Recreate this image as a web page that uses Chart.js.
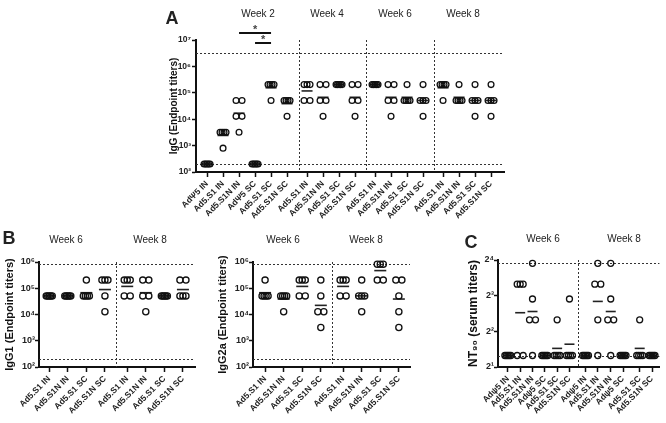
<!DOCTYPE html>
<html lang="en">
<head>
<meta charset="utf-8">
<title>IgG / NT90 titers</title>
<script src="https://cdn.jsdelivr.net/npm/chart.js"></script>
<style>
  html, body { margin: 0; padding: 0; background: #fff; }
  #wrap { position: relative; width: 666px; height: 423px; overflow: hidden; }
  #wrap canvas { position: absolute; left: 0; top: 0; }
</style>
</head>
<body>
<div id="wrap">
  <canvas id="chartA" width="666" height="423"></canvas>
  <canvas id="chartB1" width="666" height="423"></canvas>
  <canvas id="chartB2" width="666" height="423"></canvas>
  <canvas id="chartC" width="666" height="423"></canvas>
</div>
<script>
// ---- data ----
const groupsA2 = ['AdΨ5 IN', 'Ad5.S1 IN', 'Ad5.S1N IN', 'AdΨ5 SC', 'Ad5.S1 SC', 'Ad5.S1N SC'];
const groupsS = ['Ad5.S1 IN', 'Ad5.S1N IN', 'Ad5.S1 SC', 'Ad5.S1N SC'];
const groupsC = ['Adψ5 IN', 'Ad5.S1 IN', 'Ad5.S1N IN', 'Adψ5 SC', 'Ad5.S1 SC', 'Ad5.S1N SC'];
const weeksA = ['Week 2', 'Week 4', 'Week 6', 'Week 8'];
const weeksB = ['Week 6', 'Week 8'];

// panel A, IgG endpoint titers
const igG_wk2 = [
  [200, 200, 200, 200, 200],
  [3200, 3200, 3200, 3200, 800],
  [51200, 51200, 12800, 12800, 3200],
  [200, 200, 200, 200, 200],
  [204800, 204800, 204800, 204800, 51200],
  [51200, 51200, 51200, 51200, 12800]
];
const igG_wk4 = [
  [204800, 204800, 204800, 51200, 51200],
  [204800, 204800, 51200, 51200, 12800],
  [204800, 204800, 204800, 204800, 204800],
  [204800, 204800, 51200, 51200, 12800]
];
const igG_wk6 = [
  [204800, 204800, 204800, 204800, 204800],
  [204800, 204800, 51200, 51200, 12800],
  [204800, 51200, 51200, 51200, 51200],
  [204800, 51200, 51200, 51200, 12800]
];
const igG_wk8 = [
  [204800, 204800, 204800, 204800, 51200],
  [204800, 51200, 51200, 51200, 51200],
  [204800, 51200, 51200, 51200, 12800],
  [204800, 51200, 51200, 51200, 12800]
];

// panel B, IgG1 and IgG2a
const igG1_wk6 = [
  [51200, 51200, 51200, 51200, 51200],
  [51200, 51200, 51200, 51200, 51200],
  [204800, 51200, 51200, 51200, 51200],
  [204800, 204800, 204800, 51200, 12800]
];
const igG1_wk8 = [
  [204800, 204800, 204800, 51200, 51200],
  [204800, 204800, 51200, 51200, 12800],
  [51200, 51200, 51200, 51200, 51200],
  [204800, 204800, 51200, 51200, 51200]
];
const igG2a_wk6 = [
  [204800, 51200, 51200, 51200, 51200],
  [51200, 51200, 51200, 51200, 12800],
  [204800, 204800, 204800, 51200, 51200],
  [204800, 51200, 12800, 12800, 3200]
];
const igG2a_wk8 = [
  [204800, 204800, 204800, 51200, 51200],
  [204800, 51200, 51200, 51200, 12800],
  [819200, 819200, 819200, 204800, 204800],
  [204800, 204800, 51200, 12800, 3200]
];

// panel C, NT90 serum titers
const nt90_wk6 = [
  [2.5, 2.5, 2.5, 2.5, 2.5],
  [10, 10, 10, 2.5, 2.5],
  [15, 7.5, 5, 5, 2.5],
  [2.5, 2.5, 2.5, 2.5, 2.5],
  [5, 2.5, 2.5, 2.5, 2.5],
  [7.5, 2.5, 2.5, 2.5, 2.5]
];
const nt90_wk8 = [
  [2.5, 2.5, 2.5, 2.5, 2.5],
  [15, 10, 10, 5, 2.5],
  [15, 7.5, 5, 5, 2.5],
  [2.5, 2.5, 2.5, 2.5, 2.5],
  [5, 2.5, 2.5, 2.5, 2.5],
  [2.5, 2.5, 2.5, 2.5, 2.5]
];

const limitsIgG = [3276800, 200];
const limitsB = [819200, 200];
const limitsNT = [15, 2.5];

const tickLog10 = [1e2, 1e3, 1e4, 1e5, 1e6, 1e7];
const tickLabels10 = ['10²', '10³', '10⁴', '10⁵', '10⁶', '10⁷'];
const tickLog2 = [2, 4, 8, 16];
const tickLabels2 = ['2¹', '2²', '2³', '2⁴'];

// ---- drawing ----
Chart.defaults.font.family = "'Liberation Sans', Arial, sans-serif";
Chart.defaults.color = '#222';
const FONT = "'Liberation Sans', Arial, sans-serif";
const W = 666, H = 423;

function geoMean(vals) {
  return Math.pow(10, vals.reduce((s, v) => s + Math.log10(v), 0) / vals.length);
}

// equal values sit side by side, like a column scatter
function spreadPoints(groups, pos, unitsPerPx) {
  const pts = [];
  groups.forEach((vals, i) => {
    const counts = {};
    vals.forEach(v => { counts[v] = (counts[v] || 0) + 1; });
    Object.keys(counts).forEach(k => {
      const n = counts[k];
      const step = n > 1 ? 6 / (n - 1) : 0;
      for (let j = 0; j < n; j++) {
        pts.push({ x: pos[i] + (j - (n - 1) / 2) * step * unitsPerPx, y: Number(k) });
      }
    });
  });
  return pts;
}

function extrasFor(cfg) {
  return {
    id: 'extras',
    beforeDatasetsDraw(chart) {
      const { ctx, chartArea: a, scales: { x, y } } = chart;
      ctx.save();
      ctx.strokeStyle = '#333';
      ctx.lineWidth = 1;
      ctx.setLineDash([2, 2]);
      cfg.hLines.forEach(v => {
        const py = Math.round(y.getPixelForValue(v)) + 0.5;
        ctx.beginPath(); ctx.moveTo(a.left, py); ctx.lineTo(a.right, py); ctx.stroke();
      });
      cfg.vLines.forEach(v => {
        const px = Math.round(x.getPixelForValue(v)) + 0.5;
        ctx.beginPath(); ctx.moveTo(px, a.top); ctx.lineTo(px, a.bottom); ctx.stroke();
      });
      ctx.restore();
    },
    afterDraw(chart) {
      const { ctx, scales: { x } } = chart;
      ctx.save();
      ctx.fillStyle = '#222';
      ctx.textAlign = 'center';
      ctx.textBaseline = 'middle';
      ctx.font = '10px ' + FONT;
      cfg.weeks.forEach((t, i) => ctx.fillText(t, cfg.weekX[i], cfg.weekY));
      if (cfg.letter) {
        ctx.font = 'bold 18px ' + FONT;
        ctx.fillText(cfg.letter, cfg.letterX, cfg.letterY);
      }
      (cfg.sig || []).forEach(s => {
        const x1 = x.getPixelForValue(cfg.pos[s.from]);
        const x2 = x.getPixelForValue(cfg.pos[s.to]);
        ctx.strokeStyle = '#111';
        ctx.lineWidth = 2;
        ctx.beginPath(); ctx.moveTo(x1, s.y); ctx.lineTo(x2, s.y); ctx.stroke();
        ctx.fillStyle = '#444';
        ctx.font = 'bold 11px ' + FONT;
        ctx.fillText('*', (x1 + x2) / 2, s.starY);
      });
      ctx.restore();
    }
  };
}

function makePanel(id, cfg) {
  const a = cfg.area;
  const unitsPerPx = (cfg.xMax - cfg.xMin) / (a.right - a.left);
  const points = spreadPoints(cfg.values, cfg.pos, unitsPerPx);
  const means = cfg.values.map((v, i) => ({ x: cfg.pos[i], y: geoMean(v) }));

  return new Chart(document.getElementById(id), {
    type: 'scatter',
    data: {
      datasets: [{
        data: points,
        pointStyle: 'circle',
        pointRadius: cfg.r,
        pointBorderWidth: 1.3,
        pointBorderColor: '#111',
        pointBackgroundColor: 'rgba(0,0,0,0)',
        clip: false
      }, {
        data: means,
        pointStyle: 'line',
        pointRadius: cfg.meanR,
        pointBorderWidth: 1.6,
        pointBorderColor: '#222',
        clip: false
      }]
    },
    options: {
      responsive: false,
      animation: false,
      events: [],
      layout: {
        padding: { left: a.left - cfg.yW, right: W - a.right, top: a.top, bottom: H - a.bottom - cfg.xH }
      },
      plugins: { legend: { display: false }, tooltip: { enabled: false } },
      scales: {
        x: {
          type: 'linear',
          min: cfg.xMin,
          max: cfg.xMax,
          afterBuildTicks: s => { s.ticks = cfg.pos.map(v => ({ value: v })); },
          afterFit: s => { s.height = cfg.xH; },
          ticks: {
            autoSkip: false, minRotation: 45, maxRotation: 45, padding: 2, color: '#222',
            font: { size: cfg.xFont, weight: 'bold' },
            callback: (v, i) => cfg.labels[i]
          },
          grid: { display: true, drawOnChartArea: false, drawTicks: true, tickLength: 5, tickWidth: 1.5, tickColor: '#111' },
          border: { display: true, color: '#111', width: 2 }
        },
        y: {
          type: 'logarithmic',
          min: cfg.yMin,
          max: cfg.yMax,
          afterBuildTicks: s => { s.ticks = cfg.yTicks.map(v => ({ value: v })); },
          afterFit: s => { s.width = cfg.yW; },
          ticks: {
            padding: cfg.yPad, color: '#222',
            font: { size: cfg.yFont, weight: 'bold' },
            callback: (v, i) => cfg.yLabels[i]
          },
          grid: { display: true, drawOnChartArea: false, drawTicks: true, tickLength: 4, tickWidth: 1.5, tickColor: '#111' },
          border: { display: true, color: '#111', width: 2 },
          title: {
            display: true, text: cfg.yTitle, padding: 0, color: '#111',
            font: { size: cfg.titleSize, weight: 'bold' }
          }
        }
      }
    },
    plugins: [extrasFor(cfg)]
  });
}

// ---- layout ----
const posA = [0, 1, 2, 3, 4, 5, 6.25, 7.25, 8.25, 9.25, 10.5, 11.5, 12.5, 13.5, 14.75, 15.75, 16.75, 17.75];
const posB = [0, 1, 2, 3, 4.2, 5.2, 6.2, 7.2];
const posC = [0, 1, 2, 3, 4, 5, 6.3, 7.3, 8.35, 9.35, 10.7, 11.7];

makePanel('chartA', {
  values: [...igG_wk2, ...igG_wk4, ...igG_wk6, ...igG_wk8],
  labels: [...groupsA2, ...groupsS, ...groupsS, ...groupsS],
  pos: posA, xMin: -0.69, xMax: 18.56,
  area: { left: 196, right: 504, top: 40, bottom: 172 },
  yW: 28, xH: 60, r: 2.9, meanR: 5.5, xFont: 8.5, yFont: 8.5, yPad: 1, titleSize: 10,
  yMin: 1e2, yMax: 1e7, yTicks: tickLog10, yLabels: tickLabels10,
  yTitle: 'IgG (Endpoint titers)',
  hLines: limitsIgG, vLines: [5.75, 9.94, 14.19],
  weeks: weeksA, weekX: [258, 327, 395, 463], weekY: 14,
  letter: 'A', letterX: 172, letterY: 19,
  sig: [{ from: 2, to: 4, y: 33, starY: 30 }, { from: 3, to: 4, y: 43, starY: 40 }]
});

makePanel('chartB1', {
  values: [...igG1_wk6, ...igG1_wk8],
  labels: [...groupsS, ...groupsS],
  pos: posB, xMin: -0.55, xMax: 7.85,
  area: { left: 39, right: 195, top: 262, bottom: 367 },
  yW: 36, xH: 50, r: 3.1, meanR: 6, xFont: 8.5, yFont: 9, yPad: 0, titleSize: 11,
  yMin: 1e2, yMax: 1e6, yTicks: tickLog10.slice(0, 5), yLabels: tickLabels10.slice(0, 5),
  yTitle: 'IgG1 (Endpoint titers)',
  hLines: limitsB, vLines: [3.6],
  weeks: weeksB, weekX: [66, 150], weekY: 240,
  letter: 'B', letterX: 9, letterY: 239
});

makePanel('chartB2', {
  values: [...igG2a_wk6, ...igG2a_wk8],
  labels: [...groupsS, ...groupsS],
  pos: posB, xMin: -0.65, xMax: 7.8,
  area: { left: 253, right: 410, top: 262, bottom: 367 },
  yW: 37, xH: 50, r: 3.1, meanR: 6, xFont: 8.5, yFont: 9, yPad: 0, titleSize: 11,
  yMin: 1e2, yMax: 1e6, yTicks: tickLog10.slice(0, 5), yLabels: tickLabels10.slice(0, 5),
  yTitle: 'IgG2a (Endpoint titers)',
  hLines: limitsB, vLines: [3.6],
  weeks: weeksB, weekX: [283, 366], weekY: 240,
  letter: ''
});

makePanel('chartC', {
  values: [...nt90_wk6, ...nt90_wk8],
  labels: [...groupsC, ...groupsC],
  pos: posC, xMin: -0.8, xMax: 12.3,
  area: { left: 498, right: 660, top: 260, bottom: 367 },
  yW: 32, xH: 50, r: 3, meanR: 5, xFont: 8.5, yFont: 9, yPad: 0, titleSize: 12,
  yMin: 2, yMax: 16, yTicks: tickLog2, yLabels: tickLabels2,
  yTitle: 'NT₉₀ (serum titers)',
  hLines: limitsNT, vLines: [5.7],
  weeks: weeksB, weekX: [543, 624], weekY: 239,
  letter: 'C', letterX: 471, letterY: 243
});
</script>
</body>
</html>
